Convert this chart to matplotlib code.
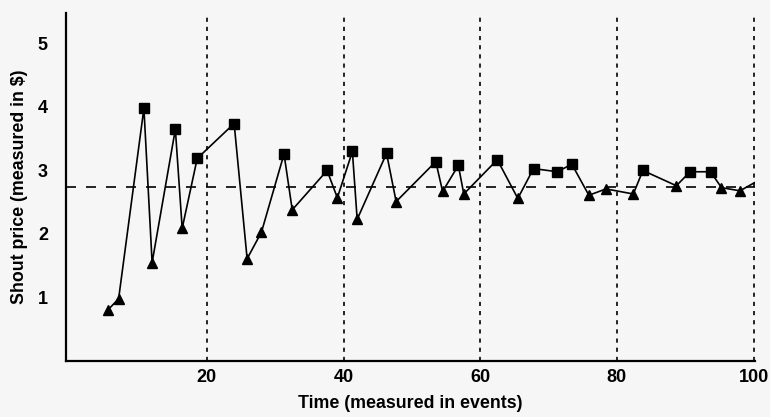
import numpy as np
import matplotlib.pyplot as plt

plt.rcParams['font.family'] = ['Liberation Sans', 'DejaVu Sans']
plt.rcParams['font.weight'] = 'bold'

# shout prices over time
events = [5.5, 7.1, 10.8, 12.0, 15.4, 16.4, 18.6, 24.0, 25.9, 28.0, 31.3, 32.5,
          37.6, 39.1, 41.3, 42.0, 46.3, 47.7, 53.5, 54.5, 56.8, 57.6, 62.5, 65.5,
          67.8, 71.3, 73.4, 75.9, 78.4, 82.4, 83.8, 88.7, 90.7, 93.7, 95.3, 98.0, 101.0]
prices = [0.80, 0.98, 3.98, 1.55, 3.65, 2.09, 3.19, 3.74, 1.61, 2.03, 3.26, 2.38,
          3.00, 2.57, 3.30, 2.23, 3.27, 2.51, 3.14, 2.67, 3.08, 2.63, 3.17, 2.56,
          3.03, 2.98, 3.10, 2.61, 2.71, 2.63, 3.00, 2.76, 2.98, 2.98, 2.73, 2.68, 2.86]
# 's' = bid above equilibrium, '^' = ask below, '' = no marker
kinds = ['^', '^', 's', '^', 's', '^', 's', 's', '^', '^', 's', '^',
         's', '^', 's', '^', 's', '^', 's', '^', 's', '^', 's', '^',
         's', 's', 's', '^', '^', '^', 's', '^', 's', 's', '^', '^', '']
equilibrium = 2.74
day_marks = [20, 40, 60, 80, 100]

fig = plt.figure(figsize=(7.7, 4.17), dpi=100)
fig.patch.set_facecolor('#f6f6f6')
ax = fig.add_axes([0.0857, 0.1343, 0.8948, 0.8345])
ax.set_facecolor('#f6f6f6')

ax.plot(events, prices, color='black', lw=1.2, zorder=3)
ev = np.array(events)
pr = np.array(prices)
kd = np.array(kinds)
for m in ['s', '^']:
    sel = kd == m
    ax.plot(ev[sel], pr[sel], ls='none', marker=m, ms=6.5,
            color='black', zorder=4)

ax.axhline(equilibrium, color='black', lw=1.2, ls=(0, (6, 6)), zorder=2)
for d in day_marks:
    ax.axvline(d, color='black', lw=1.2, ls=(0, (2.5, 3)), zorder=2)

ax.set_xlim(-0.6, 100.2)
ax.set_ylim(0, 5.48)
ax.set_xticks(day_marks)
ax.set_yticks([1, 2, 3, 4, 5])
ax.tick_params(length=0, labelsize=13)
ax.tick_params(axis='x', pad=6)
ax.tick_params(axis='y', pad=13)
for s in ['top', 'right']:
    ax.spines[s].set_visible(False)
for s in ['left', 'bottom']:
    ax.spines[s].set_linewidth(1.6)

ax.set_xlabel('Time (measured in events)', fontsize=12.8, fontweight='bold', labelpad=6)
ax.set_ylabel('Shout price (measured in $)', fontsize=12.8, fontweight='bold', labelpad=7)

fig.savefig('out.png', dpi=100, facecolor=fig.get_facecolor())
